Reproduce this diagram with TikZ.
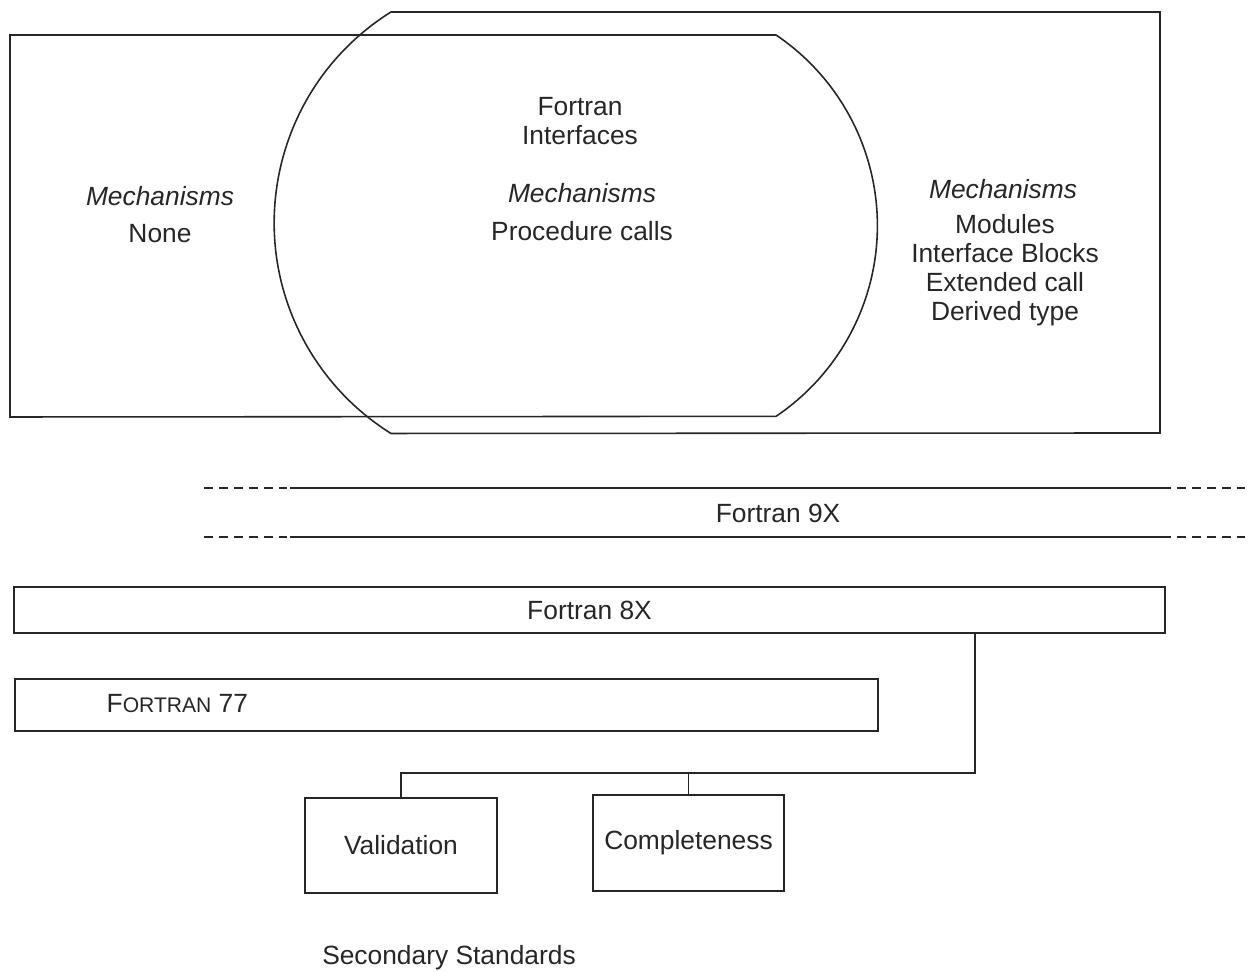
\documentclass[tikz,border=0pt]{standalone}
\usepackage{fontspec}
\setmainfont{Liberation Sans}
\usetikzlibrary{positioning}
\begin{document}
\begin{tikzpicture}[line width=0.9pt, color=black!85,
  every node/.style={font=\fontsize{15}{16.5}\selectfont},
  bar/.style={draw, rectangle, inner sep=0pt},
  mech/.style={font=\fontsize{15}{16.5}\selectfont\itshape}]
  \useasboundingbox (0,0) rectangle (24.98,19.44);

  % the two regions of the upper picture
  \draw (0.2,18.74) -- (15.52,18.74) arc[start angle=56, end angle=-56, radius=4.6]
        -- (0.2,11.1) -- cycle;
  \draw (23.2,10.78) -- (23.2,19.2) -- (7.82,19.2) arc[start angle=122, end angle=238, radius=4.97]
        -- cycle;

  \node[align=center] (intf) at (11.6,17.02) {Fortran\\Interfaces};
  \node[mech] (mechA) at (11.64,15.58) {Mechanisms};
  \node (proc) at (11.64,14.82) {Procedure calls};

  \node[mech] (mechB) at (3.2,15.52) {Mechanisms};
  \node (none) at (3.2,14.76) {None};

  \node[mech] (mechC) at (20.06,15.66) {Mechanisms};
  \node[align=center, font=\fontsize{15}{16.4}\selectfont] (list) at (20.1,14.04)
    {Modules\\Interface Blocks\\Extended call\\Derived type};

  % Fortran 9X
  \draw[dash pattern=on 5pt off 3.5pt] (4.08,9.68) -- (5.8,9.68);
  \draw (5.8,9.68) -- (23.24,9.68);
  \draw[dash pattern=on 5pt off 3.5pt] (23.24,9.68) -- (24.9,9.68);
  \draw[dash pattern=on 5pt off 3.5pt] (4.08,8.7) -- (5.8,8.7);
  \draw (5.8,8.7) -- (23.24,8.7);
  \draw[dash pattern=on 5pt off 3.5pt] (23.24,8.7) -- (24.9,8.7);
  \node (f9x) at (15.56,9.18) {Fortran 9X};

  % Fortran 8X and 77
  \node[bar, minimum width=23.02cm, minimum height=0.92cm] (f8x) at (11.79,7.24) {Fortran 8X};
  \node[bar, minimum width=17.26cm, minimum height=1.04cm] (f77) at (8.93,5.34) {};
  \node[anchor=west] (f77txt) at (2.0,5.36) {F{\fontsize{12}{14}\selectfont ORTRAN} 77};

  % secondary standards
  \node[bar, minimum width=3.84cm, minimum height=1.9cm] (val) at (8.02,2.53) {Validation};
  \node[bar, minimum width=3.82cm, minimum height=1.92cm] (comp) at (13.77,2.58) {Completeness};
  \coordinate (bus) at (19.5,3.98);
  \draw (f8x.south -| bus) -- (bus) -| (val.north);
  \draw (comp.north) -- (comp.north |- bus);
  \node (sec) at (8.98,0.28) {Secondary Standards};

\end{tikzpicture}
\end{document}
